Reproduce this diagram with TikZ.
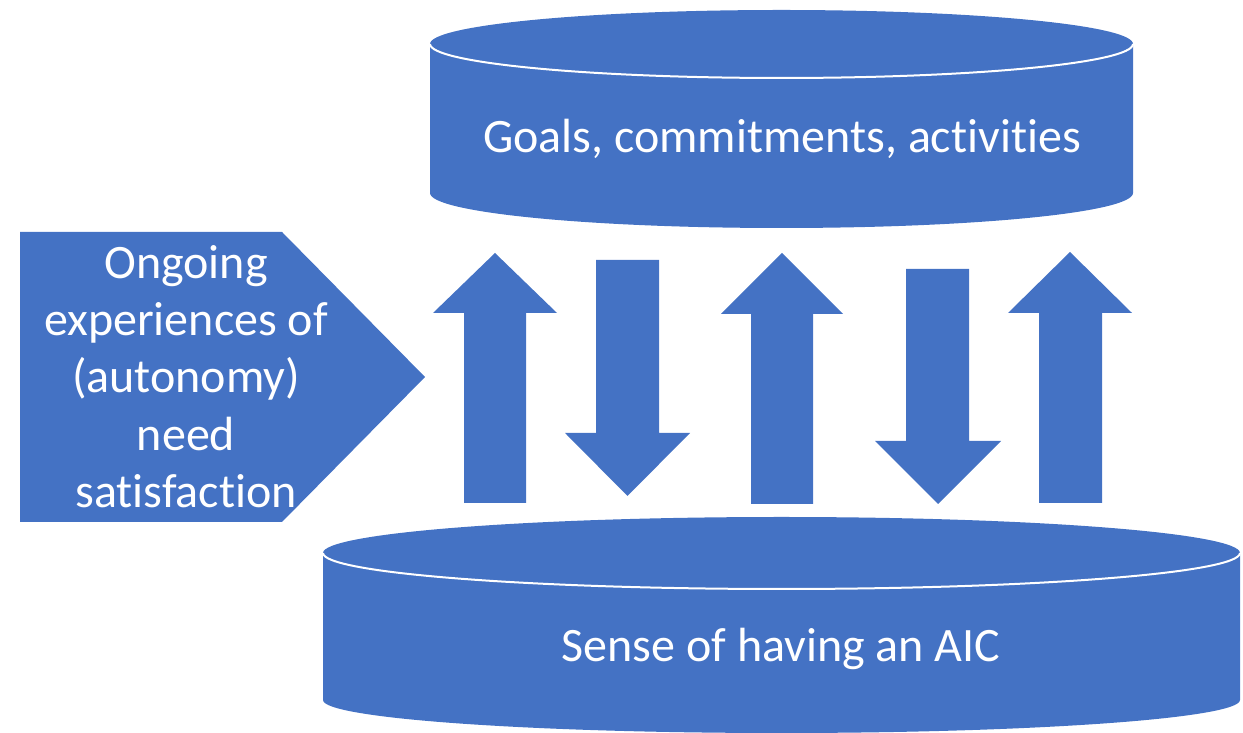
\documentclass[tikz,border=0pt]{standalone}
\usepackage{fontspec}
\setmainfont{Carlito}[RawFeature={-liga}]
\definecolor{officeblue}{HTML}{4472C4}
\tikzset{
  shapefill/.style={fill=officeblue, draw=none},
  rimline/.style={draw=white, line width=2pt},
  label/.style={text=white, inner sep=0pt, font=\fontsize{48}{57.3}\selectfont, align=center}
}
\begin{document}
\begin{tikzpicture}[x=1pt,y=1pt]
\useasboundingbox (0,0) rectangle (1243,733);
% top cylinder
\fill[shapefill] (430,689) -- (430,540) arc[start angle=180,end angle=360,x radius=351.5pt,y radius=35pt]
  -- (1133,689) arc[start angle=0,end angle=180,x radius=351.5pt,y radius=34pt] -- cycle;
\draw[rimline] (430,689) arc[start angle=180,end angle=360,x radius=351.5pt,y radius=34pt];
\node[label, anchor=base] (goals) at (782,580) {Goals, commitments, activities};
% bottom cylinder
\fill[shapefill] (323,180) -- (323,33) arc[start angle=180,end angle=360,x radius=458.5pt,y radius=33pt]
  -- (1240,180) arc[start angle=0,end angle=180,x radius=458.5pt,y radius=36pt] -- cycle;
\draw[rimline] (323,180) arc[start angle=180,end angle=360,x radius=458.5pt,y radius=36pt];
\node[label, anchor=base] (sense) at (781,71) {Sense of having an AIC};
% pentagon
\fill[shapefill] (20,501) -- (282,501) -- (425,356) -- (282,211) -- (20,211) -- cycle;
\node[label] (ongoing) at (186,356.5) {Ongoing\\experiences of\\(autonomy)\\need\\satisfaction};
% arrows
\fill[shapefill] (464,230) -- (464,420) -- (433,420) -- (495,480) -- (557,420) -- (526,420) -- (526,230) -- cycle;
\fill[shapefill] (596,473) -- (596,300) -- (565,300) -- (627.5,237) -- (690,300) -- (659,300) -- (659,473) -- cycle;
\fill[shapefill] (751,229) -- (751,419) -- (721,419) -- (782,480) -- (843,419) -- (813,419) -- (813,229) -- cycle;
\fill[shapefill] (906,464) -- (906,292) -- (875,292) -- (938,229) -- (1001,292) -- (969,292) -- (969,464) -- cycle;
\fill[shapefill] (1039,230) -- (1039,420) -- (1008,420) -- (1070,481) -- (1132,420) -- (1102,420) -- (1102,230) -- cycle;
\end{tikzpicture}
\end{document}
